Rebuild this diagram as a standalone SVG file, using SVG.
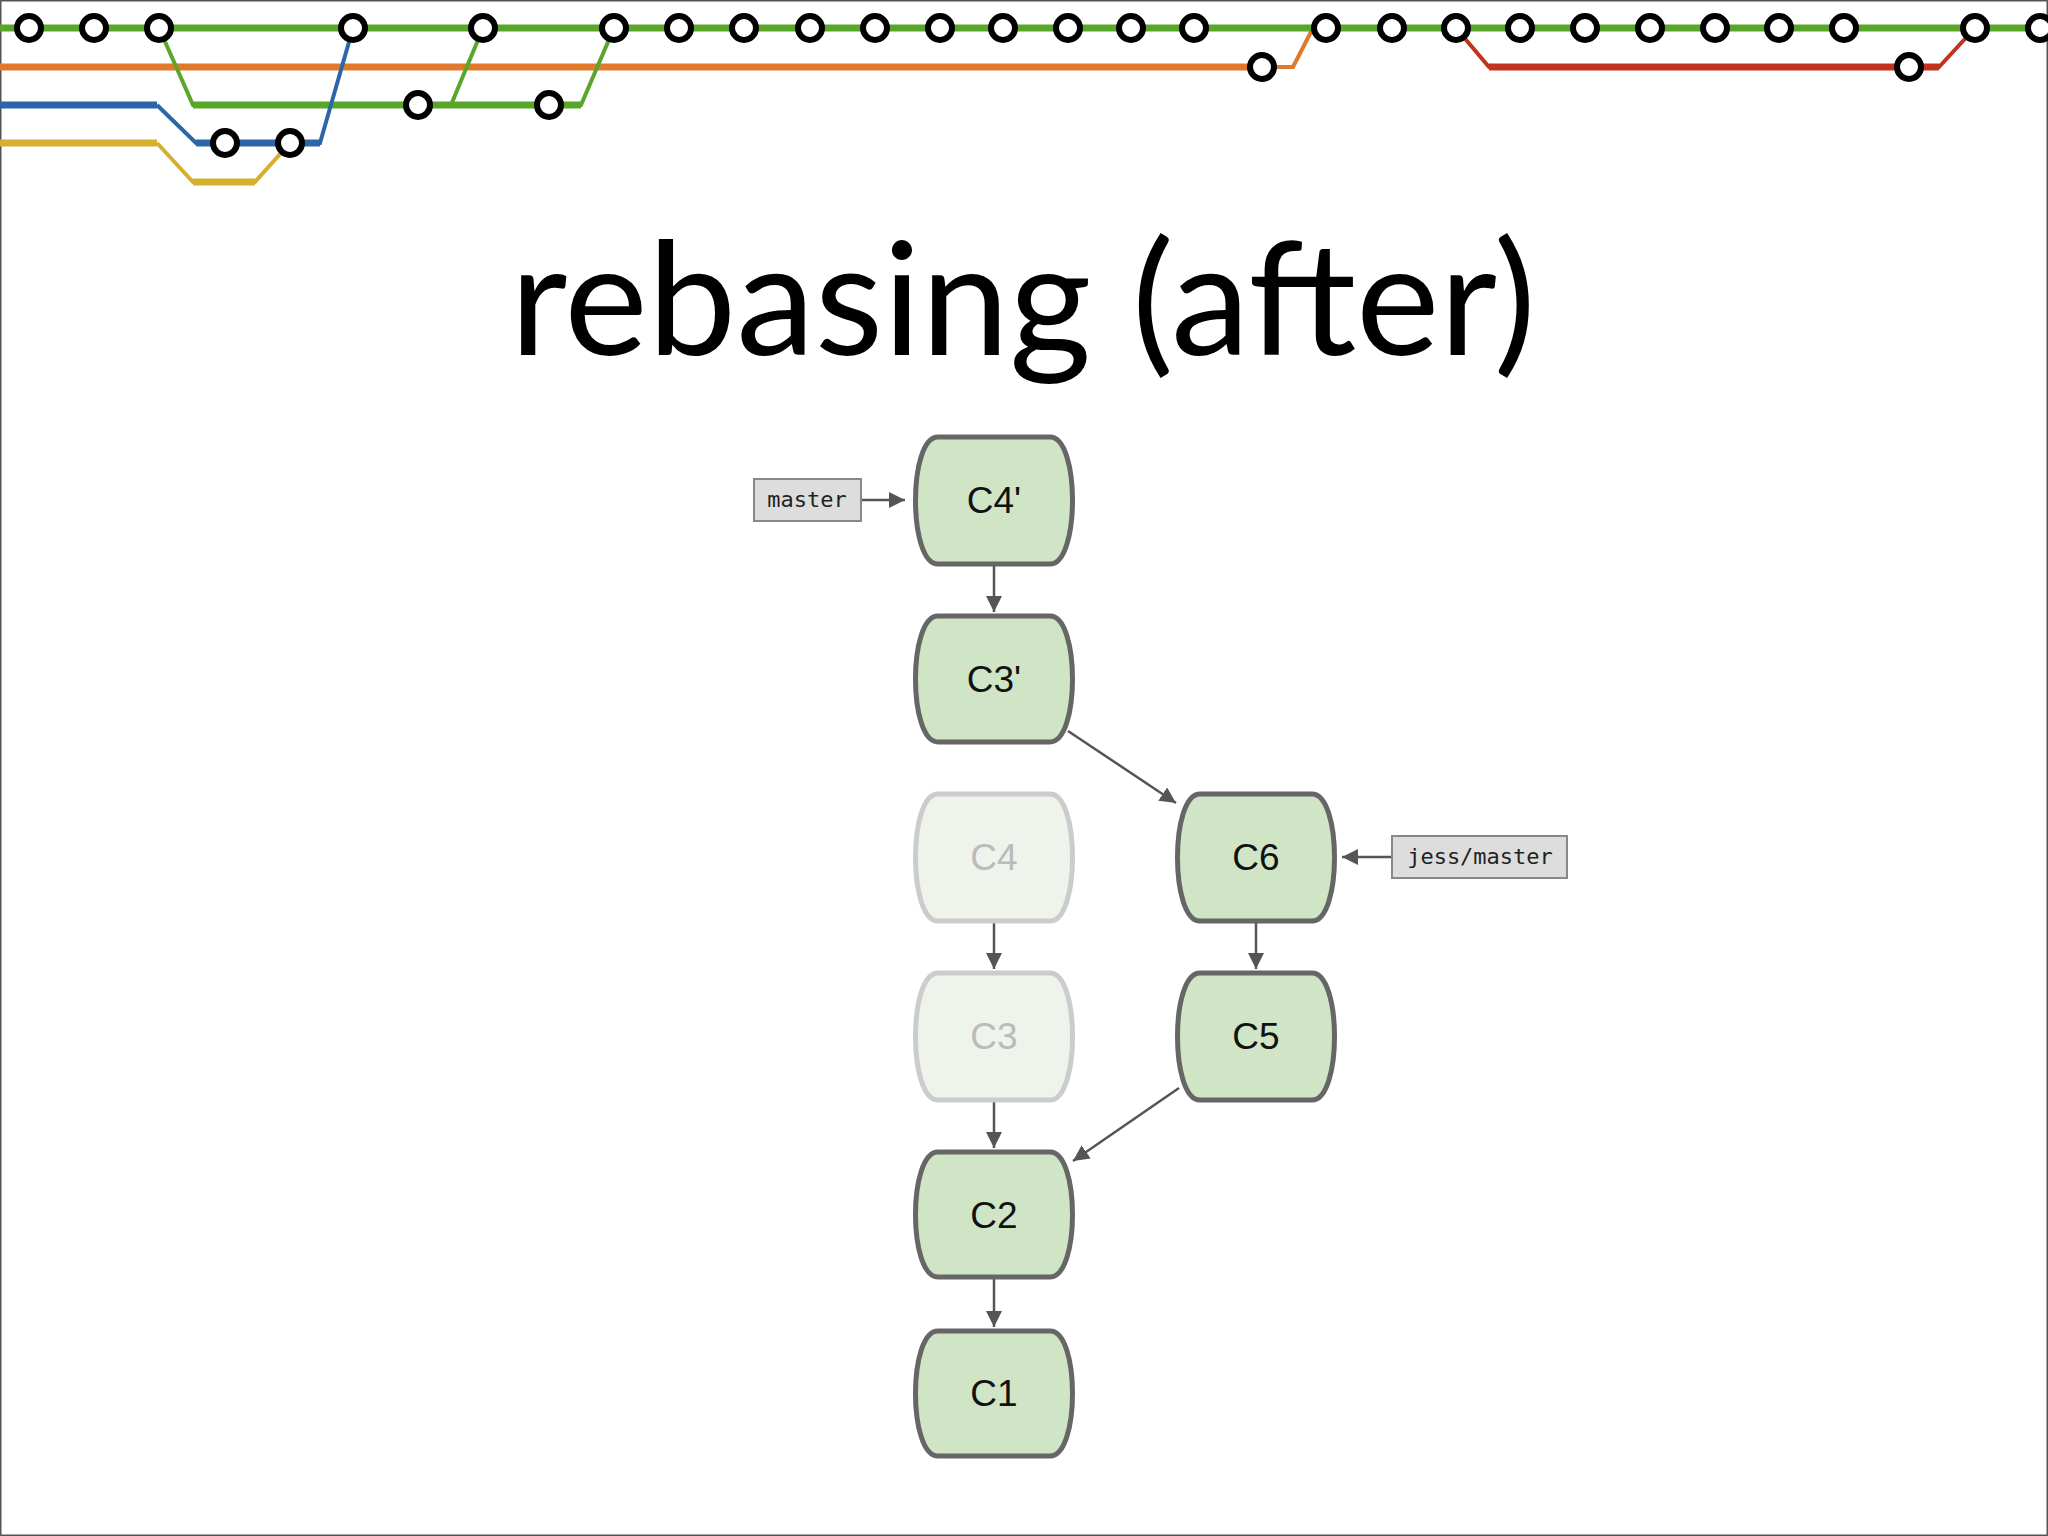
<svg xmlns="http://www.w3.org/2000/svg" width="2048" height="1536" viewBox="0 0 2048 1536">
<style>
.ln{fill:none;stroke-width:7;stroke-linejoin:round}
.th{fill:none;stroke-width:4}
.c{fill:#fff;stroke:#000;stroke-width:6}
.n{fill:#d0e5c5;stroke:#666;stroke-width:5}
.f{fill:#eef3ec;stroke:#ccc;stroke-width:5}
.t{font-family:"Liberation Sans",Arial,sans-serif;font-size:37px;text-anchor:middle;fill:#111}
.ft{fill:#bbb}
.lb{fill:#ddd;stroke:#888;stroke-width:2}
.lt{font-family:"DejaVu Sans Mono","Liberation Mono",monospace;font-size:22px;text-anchor:middle;fill:#222}
.e{stroke:#555;stroke-width:2.5;fill:none;marker-end:url(#a2)}
</style>
<defs>
<marker id="a2" viewBox="0 0 10 10" refX="10" refY="5" markerWidth="16" markerHeight="16" orient="auto" markerUnits="userSpaceOnUse"><path d="M0,0L10,5L0,10z" fill="#555"/></marker>
</defs>
<rect x="0" y="0" width="2048" height="1536" fill="#fff" stroke="#555" stroke-width="3"/>
<g id="header">
<path class="ln" stroke="#e07a2a" d="M0,67H1262"/>
<path class="th" stroke="#e07a2a" d="M1262,67H1293L1313,28"/>
<path class="ln" stroke="#5aa62a" d="M0,28H2048"/>
<path class="th" stroke="#5aa62a" d="M159,28L193,105H581L614,28M451,105L483,28"/>
<path class="ln" stroke="#5aa62a" d="M193,105H581"/>
<path class="ln" stroke="#2d66a8" d="M0,105H157"/>
<path class="th" stroke="#2d66a8" d="M157,105L196,143H320L353,28"/>
<path class="ln" stroke="#2d66a8" d="M196,143H320"/>
<path class="ln" stroke="#d4b02e" d="M0,143H157"/>
<path class="th" stroke="#d4b02e" d="M157,143L193,182H255L290,143"/>
<path class="ln" stroke="#d4b02e" d="M193,182H255"/>
<path class="th" stroke="#c0341f" d="M1456,28L1489,67H1939L1975,28"/>
<path class="ln" stroke="#c0341f" d="M1489,67H1939"/>
<g>
<circle class="c" cx="29" cy="28" r="12"/><circle class="c" cx="94" cy="28" r="12"/><circle class="c" cx="159" cy="28" r="12"/><circle class="c" cx="353" cy="28" r="12"/><circle class="c" cx="483" cy="28" r="12"/><circle class="c" cx="614" cy="28" r="12"/><circle class="c" cx="679" cy="28" r="12"/><circle class="c" cx="744" cy="28" r="12"/><circle class="c" cx="810" cy="28" r="12"/><circle class="c" cx="875" cy="28" r="12"/><circle class="c" cx="940" cy="28" r="12"/><circle class="c" cx="1003" cy="28" r="12"/><circle class="c" cx="1068" cy="28" r="12"/><circle class="c" cx="1131" cy="28" r="12"/><circle class="c" cx="1194" cy="28" r="12"/><circle class="c" cx="1326" cy="28" r="12"/><circle class="c" cx="1392" cy="28" r="12"/><circle class="c" cx="1456" cy="28" r="12"/><circle class="c" cx="1520" cy="28" r="12"/><circle class="c" cx="1585" cy="28" r="12"/><circle class="c" cx="1650" cy="28" r="12"/><circle class="c" cx="1715" cy="28" r="12"/><circle class="c" cx="1779" cy="28" r="12"/><circle class="c" cx="1844" cy="28" r="12"/><circle class="c" cx="1975" cy="28" r="12"/><circle class="c" cx="2040" cy="28" r="12"/>
<circle class="c" cx="1262" cy="67" r="12"/><circle class="c" cx="1909" cy="67" r="12"/>
<circle class="c" cx="418" cy="105" r="12"/><circle class="c" cx="549" cy="105" r="12"/>
<circle class="c" cx="225" cy="143" r="12"/><circle class="c" cx="290" cy="143" r="12"/>
</g>
</g>
<text x="1023" y="355" font-family="Lato,'Open Sans',sans-serif" font-size="158" text-anchor="middle" fill="#000">rebasing (after)</text>
<g id="connectors">
<path class="e" d="M861,500H905"/>
<path class="e" d="M994,564V612"/>
<path class="e" d="M1068,731L1176,803"/>
<path class="e" d="M1392,857H1342"/>
<path class="e" d="M1256,921V969"/>
<path class="e" d="M994,921V969"/>
<path class="e" d="M994,1100V1148"/>
<path class="e" d="M1179,1088L1073,1161"/>
<path class="e" d="M994,1277V1327"/>
</g>
<g id="C4p"><path class="n" d="M938,437H1050C1080,437 1080,564 1050,564H938C908,564 908,437 938,437Z"/><text class="t" x="994" y="513">C4'</text></g>
<g id="C3p"><path class="n" d="M938,616H1050C1080,616 1080,742 1050,742H938C908,742 908,616 938,616Z"/><text class="t" x="994" y="692">C3'</text></g>
<g id="C4"><path class="f" d="M938,794H1050C1080,794 1080,921 1050,921H938C908,921 908,794 938,794Z"/><text class="t ft" x="994" y="870">C4</text></g>
<g id="C3"><path class="f" d="M938,973H1050C1080,973 1080,1100 1050,1100H938C908,1100 908,973 938,973Z"/><text class="t ft" x="994" y="1049">C3</text></g>
<g id="C2"><path class="n" d="M938,1152H1050C1080,1152 1080,1277 1050,1277H938C908,1277 908,1152 938,1152Z"/><text class="t" x="994" y="1228">C2</text></g>
<g id="C1"><path class="n" d="M938,1331H1050C1080,1331 1080,1456 1050,1456H938C908,1456 908,1331 938,1331Z"/><text class="t" x="994" y="1406">C1</text></g>
<g id="C6"><path class="n" d="M1200,794H1312C1342,794 1342,921 1312,921H1200C1170,921 1170,794 1200,794Z"/><text class="t" x="1256" y="870">C6</text></g>
<g id="C5"><path class="n" d="M1200,973H1312C1342,973 1342,1100 1312,1100H1200C1170,1100 1170,973 1200,973Z"/><text class="t" x="1256" y="1049">C5</text></g>
<g id="master"><rect class="lb" x="754" y="479" width="107" height="42"/><text class="lt" x="807" y="507">master</text></g>
<g id="jess"><rect class="lb" x="1392" y="836" width="175" height="42"/><text class="lt" x="1480" y="864">jess/master</text></g>
</svg>
